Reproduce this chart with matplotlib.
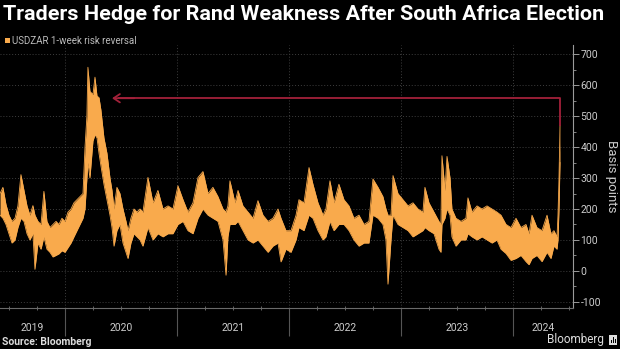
import matplotlib
matplotlib.use('Agg')
import matplotlib.pyplot as plt
from matplotlib.ticker import MultipleLocator, FixedLocator, NullFormatter
from matplotlib.patches import Rectangle
import matplotlib.transforms as mtransforms

# ---------------- data (decimal years, basis points) ----------------
dates = [2019.420, 2019.446, 2019.473, 2019.500, 2019.527, 2019.554, 2019.580, 2019.607,
         2019.634, 2019.661, 2019.687, 2019.714, 2019.732, 2019.759, 2019.786, 2019.812,
         2019.839, 2019.866, 2019.893, 2019.920, 2019.946, 2019.973, 2020.000, 2020.027,
         2020.054, 2020.080, 2020.107, 2020.134, 2020.161, 2020.179, 2020.196, 2020.205,
         2020.223, 2020.250, 2020.268, 2020.286, 2020.304, 2020.321, 2020.348, 2020.375,
         2020.402, 2020.420, 2020.438, 2020.464, 2020.491, 2020.518, 2020.545, 2020.563,
         2020.589, 2020.616, 2020.643, 2020.670, 2020.696, 2020.741, 2020.786, 2020.830,
         2020.875, 2020.920, 2020.964, 2021.009, 2021.054, 2021.098, 2021.143, 2021.188,
         2021.232, 2021.277, 2021.321, 2021.366, 2021.411, 2021.438, 2021.455, 2021.473,
         2021.518, 2021.545, 2021.589, 2021.634, 2021.679, 2021.723, 2021.768, 2021.813,
         2021.857, 2021.902, 2021.929, 2021.973, 2022.018, 2022.063, 2022.089, 2022.134,
         2022.179, 2022.214, 2022.259, 2022.304, 2022.330, 2022.366, 2022.402, 2022.446,
         2022.491, 2022.536, 2022.580, 2022.625, 2022.670, 2022.714, 2022.750, 2022.795,
         2022.839, 2022.866, 2022.884, 2022.911, 2022.929, 2022.973, 2023.018, 2023.063,
         2023.107, 2023.152, 2023.196, 2023.214, 2023.250, 2023.295, 2023.339, 2023.357,
         2023.366, 2023.393, 2023.411, 2023.438, 2023.455, 2023.491, 2023.536, 2023.580,
         2023.598, 2023.634, 2023.679, 2023.723, 2023.768, 2023.813, 2023.857, 2023.893,
         2023.938, 2023.982, 2024.027, 2024.071, 2024.116, 2024.143, 2024.170, 2024.214,
         2024.259, 2024.304, 2024.339, 2024.366, 2024.393, 2024.402, 2024.411, 2024.420]

high = [250, 270, 215, 180, 160, 170, 210, 311, 260, 210, 180, 211, 180, 160, 150, 257,
        160, 140, 150, 160, 150, 170, 160, 190, 200, 220, 230, 240, 250, 400, 500, 658,
        580, 570, 626, 565, 560, 520, 430, 380, 300, 260, 200, 270, 250, 200, 160, 130,
        170, 200, 190, 200, 190, 302, 220, 260, 200, 210, 200, 275, 230, 190, 220, 302,
        321, 250, 270, 240, 200, 190, 210, 291, 220, 260, 210, 190, 170, 227, 180, 160,
        170, 200, 170, 130, 130, 180, 230, 220, 334, 280, 220, 180, 200, 291, 220, 280,
        230, 210, 170, 180, 150, 160, 297, 270, 240, 200, 180, 180, 308, 250, 230, 210,
        220, 200, 190, 270, 220, 190, 160, 150, 372, 260, 370, 300, 200, 170, 160, 170,
        236, 190, 210, 200, 210, 200, 190, 180, 150, 140, 170, 140, 150, 120, 180, 140,
        130, 180, 120, 130, 110, 180, 300, 468]

low = [180, 170, 150, 120, 90, 100, 140, 170, 160, 120, 100, 120, 5, 90, 70, 110,
       70, 60, 45, 50, 55, 65, 60, 75, 90, 110, 130, 150, 170, 200, 300, 350,
       300, 420, 440, 430, 380, 340, 280, 230, 180, 140, 80, 130, 150, 90, 60, 40,
       90, 120, 110, 100, 80, 140, 100, 120, 110, 120, 120, 150, 160, 130, 120, 170,
       200, 180, 170, 160, 100, -14, 110, 150, 150, 160, 130, 100, 90, 100, 80, 60,
       80, 90, 29, 70, 60, 100, 140, 130, 180, 170, 130, 100, 110, 160, 130, 150,
       150, 130, 100, 80, 90, 90, 180, 170, 150, 100, -43, 100, 180, 150, 140, 130,
       110, 120, 130, 140, 130, 120, 70, 60, 150, 170, 200, 180, 110, 80, 100, 100,
       120, 110, 100, 110, 100, 90, 100, 70, 56, 34, 40, 50, 30, 20, 40, 50,
       30, 60, 40, 80, 70, 100, 200, 350]

year_labels = ['2019', '2020', '2021', '2022', '2023', '2024']
year_starts = [2019, 2020, 2021, 2022, 2023, 2024]
y_ticks = [-100, 0, 100, 200, 300, 400, 500, 600, 700]
arrow_level = 558          # level of the red annotation line
latest_value = 468         # latest reading the annotation starts from
arrow_target = 2020.42     # point in time the arrow refers back to

title = 'Traders Hedge for Rand Weakness After South Africa Election'
legend_label = 'USDZAR 1-week risk reversal'

# ---------------- styling ----------------
ORANGE = '#f9aa4c'
RED = '#a3213a'
W, H = 620, 349
plt.rcParams['font.family'] = ['Roboto', 'DejaVu Sans']

fig = plt.figure(figsize=(W / 100, H / 100), dpi=100, facecolor='black')
ax = fig.add_axes([0, 1 - 308 / H, 573 / W, 263 / H], facecolor='black')

ax.fill_between(dates, low, high, color=ORANGE, lw=0, zorder=3)
ax.plot(dates, high, color=ORANGE, lw=0.6, zorder=3)
ax.plot(dates, low, color=ORANGE, lw=0.6, zorder=3)

x0, x1 = 2019.42, 2024.536
ax.set_xlim(x0, x1)
ax.set_ylim(-120, 730)

# red annotation
ax.plot([dates[-1], dates[-1], arrow_target + 0.05], [latest_value, arrow_level, arrow_level],
        color=RED, lw=1.3, zorder=4, solid_capstyle='butt')
ax.annotate('', xy=(arrow_target, arrow_level), xytext=(arrow_target + 0.2, arrow_level),
            arrowprops=dict(arrowstyle='->,head_length=0.45,head_width=0.3', color=RED, lw=1.3,
                            shrinkA=0, shrinkB=0), zorder=4)

# spines
for s in ['top', 'left']:
    ax.spines[s].set_visible(False)
ax.spines['right'].set_color('#9a9a9a')
ax.spines['right'].set_linewidth(0.8)
ax.spines['bottom'].set_color('#6a6a6a')
ax.spines['bottom'].set_linewidth(0.8)

# y axis on the right
ax.yaxis.tick_right()
ax.yaxis.set_label_position('right')
ax.set_yticks(y_ticks)
ax.set_yticklabels([f'{v:d}'.replace('-', '-') for v in y_ticks])
ax.yaxis.set_minor_locator(MultipleLocator(50))
ax.tick_params(axis='y', which='major', length=4, width=0.7, color='#9a9a9a',
               labelcolor='#cccccc', labelsize=7.5, pad=1.5)
ax.tick_params(axis='y', which='minor', length=2, width=0.6, color='#9a9a9a')
ax.set_ylabel('Basis points', rotation=270, color='#cccccc', fontsize=9.5, labelpad=12)

# x axis
ax.xaxis.set_major_locator(FixedLocator(year_starts[1:]))
ax.xaxis.set_major_formatter(NullFormatter())
quarters = [y + q / 4 for y in year_starts for q in range(1, 4)]
ax.xaxis.set_minor_locator(FixedLocator(quarters))
ax.tick_params(axis='x', which='major', length=20, width=0.8, color='#555555', direction='out')
ax.tick_params(axis='x', which='minor', length=2.5, width=0.6, color='#777777', direction='inout')

trans = mtransforms.blended_transform_factory(ax.transData, ax.transAxes)
for lab, ys in zip(year_labels, year_starts):
    a, b = max(ys, x0), min(ys + 1, x1)
    ax.text((a + b) / 2, -20 / 263, lab, transform=trans, ha='center', va='center',
            color='#cccccc', fontsize=7.5)

# grid
ax.grid(True, which='major', axis='both', color='#3e3e3e', linestyle=(0, (1, 2)), lw=0.7)
ax.set_axisbelow(True)

# title, fitted to width
t = fig.text(3 / W, 1 - 14 / H, title, color='white', fontweight='bold', fontsize=14,
             va='center', ha='left')
fig.canvas.draw()
r = fig.canvas.get_renderer()
w = t.get_window_extent(r).width
t.set_fontsize(14 * 600 / w)

# legend
fig.add_artist(Rectangle((5 / W, 1 - 43 / H), 5 / W, 5.5 / H, transform=fig.transFigure,
                         color=ORANGE, lw=0))
fig.text(12 / W, 1 - 40.5 / H, legend_label, color='#bbbbbb', fontsize=7, va='center', ha='left')

# footer
fig.text(2 / W, 1 - 342 / H, 'Source: Bloomberg', color='#dddddd', fontsize=7.5,
         fontweight='bold', va='center', ha='left')
fig.text(604 / W, 1 - 340 / H, 'Bloomberg', color='#dddddd', fontsize=8.5, va='center', ha='right')
fig.add_artist(Rectangle((609 / W, 1 - 345 / H), 8 / W, 10 / H, transform=fig.transFigure,
                         color='#dddddd', lw=0))
for i, hh in enumerate([3, 6, 4]):
    fig.add_artist(Rectangle(((610.5 + i * 2) / W, 1 - 343 / H), 1 / W, hh / H,
                             transform=fig.transFigure, color='black', lw=0))

fig.savefig('out.png', dpi=100, facecolor='black')
